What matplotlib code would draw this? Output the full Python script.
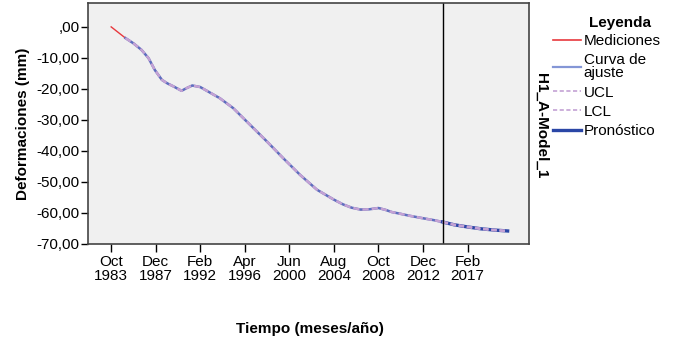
import matplotlib
matplotlib.use("Agg")
import matplotlib.pyplot as plt
from matplotlib.lines import Line2D

plt.rcParams["font.family"] = ["Liberation Sans", "DejaVu Sans"]

# months counted from Oct 1983
tick_months = [0, 50, 100, 150, 200, 250, 300, 350, 400]
tick_labels = ["Oct\n1983", "Dec\n1987", "Feb\n1992", "Apr\n1996", "Jun\n2000",
               "Aug\n2004", "Oct\n2008", "Dec\n2012", "Feb\n2017"]
y_ticks = [0, -10, -20, -30, -40, -50, -60, -70]
y_labels = [",00", "-10,00", "-20,00", "-30,00", "-40,00", "-50,00", "-60,00", "-70,00"]

meas_m = [0, 8, 16, 25, 34, 42, 49, 57, 63, 70, 79, 85, 91, 100, 111, 122, 137, 156,
          175, 193, 212, 231, 250, 260, 270, 280, 290, 300, 308, 315, 322, 335, 350,
          362, 372]
meas_v = [0.0, -1.8, -3.6, -5.3, -7.4, -10.1, -13.9, -17.1, -18.2, -19.2, -20.6, -19.7,
          -18.9, -19.4, -21.2, -23.0, -26.2, -31.6, -37.0, -42.3, -47.7, -52.5, -55.7,
          -57.2, -58.3, -58.9, -58.8, -58.4, -59.0, -59.7, -60.1, -60.9, -61.7, -62.3,
          -62.9]
fit_m = meas_m[2:]
fit_v = meas_v[2:]
fc_m = [372, 385, 400, 415, 430, 445]
fc_v = [-62.9, -63.8, -64.5, -65.1, -65.5, -65.8]
ucl_v = [-62.8, -63.7, -64.4, -65.0, -65.4, -65.7]
lcl_v = [-63.0, -63.9, -64.6, -65.2, -65.6, -65.9]
forecast_start = 372

c_meas = "#e8383d"
c_fit = "#5d6fc0"
c_fit_leg = "#8496d6"
c_cl = "#c4a2d4"
c_fc = "#2a46a6"
fs = 11

fig = plt.figure(figsize=(6.76, 3.54), dpi=100)
ax = fig.add_axes([88 / 676, 1 - 244 / 354, (529 - 88) / 676, (244 - 3) / 354])
ax.set_facecolor("#f0f0f0")

ax.plot(meas_m, meas_v, color=c_meas, lw=1.0)
ax.plot(fit_m, fit_v, color=c_fit, lw=1.8)
ax.plot(fit_m, fit_v, color=c_cl, lw=1.8, ls=(0, (2.5, 1.2)))
ax.plot(fc_m, fc_v, color=c_fc, lw=2.4)
ax.plot(fc_m, ucl_v, color=c_cl, lw=1.6, ls=(0, (2.5, 1.2)))
ax.plot(fc_m, lcl_v, color=c_cl, lw=1.6, ls=(0, (2.5, 1.2)))
ax.axvline(forecast_start, color="black", lw=1.0)

ax.set_xlim(-26, 469)
ax.set_ylim(-70, 7.7)
ax.set_xticks(tick_months)
ax.set_xticklabels(tick_labels, fontsize=fs, linespacing=0.95)
ax.set_yticks(y_ticks)
ax.set_yticklabels(y_labels, fontsize=fs)
ax.tick_params(axis="x", direction="out", length=6, width=1, pad=2, colors="black")
ax.tick_params(axis="y", direction="out", length=5, width=1, pad=1, colors="black")
for s in ax.spines.values():
    s.set_color("#444444")
    s.set_linewidth(1.2)

ax.set_ylabel("Deformaciones (mm)", fontsize=fs, fontweight="bold", labelpad=5)
fig.text(310 / 676, 1 - 329 / 354, "Tiempo (meses/año)", fontsize=fs,
         fontweight="bold", ha="center", va="center")

handles = [
    Line2D([], [], color=c_meas, lw=1.2),
    Line2D([], [], color=c_fit_leg, lw=1.6),
    Line2D([], [], color=c_cl, lw=1.2, ls=(0, (2.5, 1.5))),
    Line2D([], [], color=c_cl, lw=1.2, ls=(0, (2.5, 1.5))),
    Line2D([], [], color=c_fc, lw=2.4),
]
labels = ["Mediciones", "Curva de\najuste", "UCL", "LCL", "Pronóstico"]
leg = fig.legend(handles, labels, loc="upper left", bbox_to_anchor=(553 / 676, 1 - 34 / 354),
                 frameon=False, fontsize=fs, handlelength=1.85, handletextpad=0.15,
                 labelspacing=0.34, borderaxespad=0, borderpad=0)
for t in leg.get_texts():
    t.set_linespacing(0.92)
fig.text(651 / 676, 1 - 23 / 354, "Leyenda", fontsize=fs, fontweight="bold",
         ha="right", va="center")

fig.text(541 / 676, 1 - 126 / 354, "H1_A-Model_1", rotation=270, fontsize=fs,
         fontweight="bold", ha="center", va="center")

fig.savefig("out.png", dpi=100)
